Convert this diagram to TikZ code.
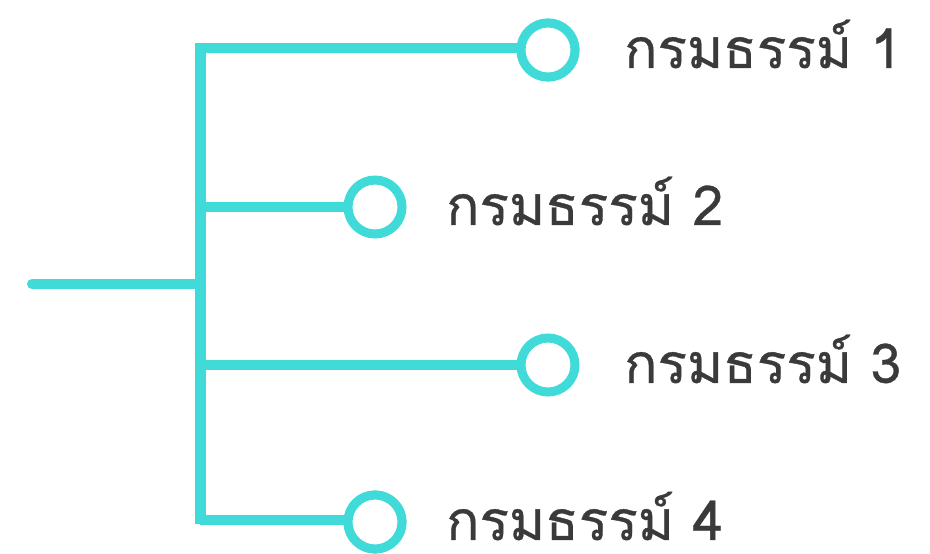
\documentclass[tikz,border=0pt]{standalone}
\usepackage{fontspec}
\newfontfamily\thaifont[Script=Thai,FakeBold=0.6]{Loma}
\definecolor{teal1}{HTML}{40DBD8}
\definecolor{txt}{HTML}{3A3A3A}
\begin{document}
\begin{tikzpicture}[x=1pt,y=-1pt,
  link/.style={draw=teal1,line width=10pt},
  ring/.style={circle,draw=teal1,line width=9pt,fill=white,minimum size=54pt,inner sep=0pt},
  lbl/.style={anchor=west,text=txt,font=\thaifont\fontsize{55}{60}\selectfont,inner sep=0pt}]
\useasboundingbox (0,0) rectangle (930,554);
\coordinate (s) at (32,284);
\coordinate (j) at (200,284);
\coordinate (top) at (200,43);
\coordinate (bot) at (200,524);
\coordinate (b1) at (200,48);
\coordinate (b2) at (200,207);
\coordinate (b3) at (200,365);
\coordinate (b4) at (200,520);
\draw[link,line cap=round] (s) -- (j);
\draw[link,line width=11pt] (top) -- (bot);
\node[ring] (c1) at (548,50) {};
\node[ring] (c2) at (375,207) {};
\node[ring] (c3) at (548,365) {};
\node[ring] (c4) at (375,522) {};
\draw[link] (b1) -- (b1 -| c1.west);
\draw[link] (b2) -- (c2.west);
\draw[link] (b3) -- (c3.west);
\draw[link] (b4) -- (b4 -| c4.west);
\node[ring] at (c1) {};
\node[ring] at (c4) {};
\node[lbl] (t1) at (624,44) {กรมธรรม์ 1};
\node[lbl] (t2) at (446,201) {กรมธรรม์ 2};
\node[lbl] (t3) at (624,359) {กรมธรรม์ 3};
\node[lbl] (t4) at (446,516) {กรมธรรม์ 4};
\end{tikzpicture}
\end{document}
